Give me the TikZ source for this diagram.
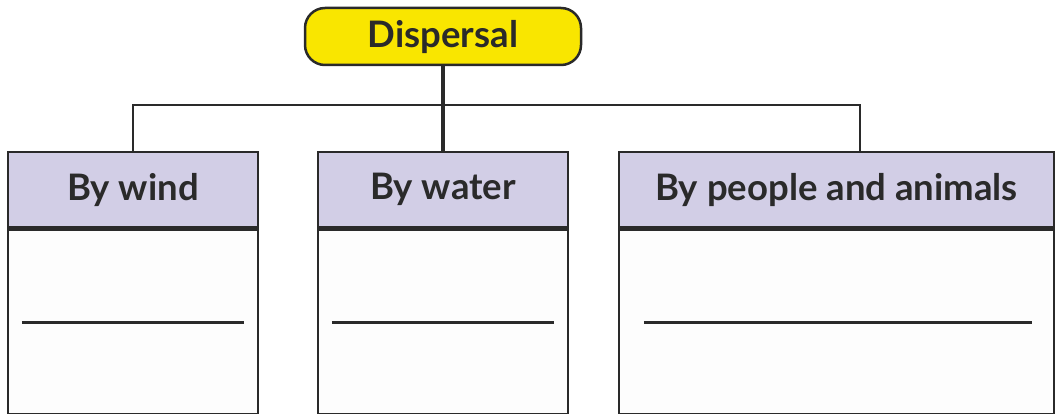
\documentclass[tikz,border=0pt]{standalone}
\usepackage{fontspec}
\setmainfont{Lato}
\usepackage{tikz}
\usetikzlibrary{calc}
\definecolor{inkgray}{HTML}{2A2A2A}
\definecolor{headyellow}{HTML}{F9E600}
\definecolor{headlilac}{HTML}{D2CEE6}
\definecolor{bodywhite}{HTML}{FDFDFD}
\begin{document}
\begin{tikzpicture}[x=1pt,y=-1pt,
	topbox/.style={draw=inkgray,line width=2.5pt,fill=headyellow,rounded corners=20pt,minimum width=276pt,minimum height=57pt,inner sep=0pt,text=inkgray,font=\fontsize{36.5}{40}\selectfont\bfseries},
	headbox/.style={draw=inkgray,line width=2.5pt,fill=headlilac,minimum height=75pt,inner sep=0pt,text=inkgray,font=\fontsize{36.5}{40}\selectfont\bfseries},
	bodybox/.style={draw=inkgray,line width=2.5pt,fill=bodywhite,minimum height=185pt,inner sep=0pt,anchor=north},
	writeline/.style={draw=inkgray,line width=3pt},
	link/.style={draw=inkgray,line width=2pt},
	trunk/.style={draw=inkgray,line width=3.5pt}]
	\useasboundingbox (0,0) rectangle (1056,414);
				\node[topbox] (disp) at (443,36.5) {Dispersal};
				
				\node[headbox,minimum width=250pt] (wind) at (133,189.5) {By wind};
				\node[headbox,minimum width=250pt] (water) at (443,189.5) {By water};
				\node[headbox,minimum width=435pt] (people) at (836.5,189.5) {By people and animals};
				
				\node[bodybox,minimum width=250pt] (windbody) at (wind.south) {};
				\node[bodybox,minimum width=250pt] (waterbody) at (water.south) {};
				\node[bodybox,minimum width=435pt] (peoplebody) at (people.south) {};
				
				\coordinate (fork) at (443,105);
				\coordinate (peopletop) at (860,105);
				
				\draw[link] (wind.north) |- (fork) -- (peopletop) -- (peopletop |- people.north);
				\draw[trunk] (disp.south) -- (water.north);
				
				\draw[writeline] ($(windbody.west)+(15,0)$) -- ($(windbody.east)+(-15,0)$);
				\draw[writeline] ($(waterbody.west)+(15,0)$) -- ($(waterbody.east)+(-15,0)$);
				\draw[writeline] ($(peoplebody.west)+(26,0)$) -- ($(peoplebody.east)+(-23,0)$);
			\end{tikzpicture}
\end{document}
